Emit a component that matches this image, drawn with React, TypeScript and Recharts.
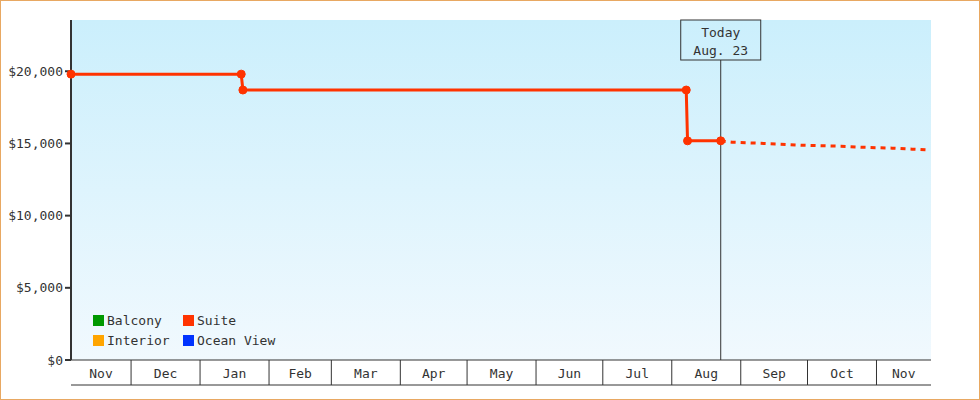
import React from 'react';
import { LineChart, Line, XAxis, YAxis, CartesianGrid, ReferenceLine } from 'recharts';

// suite prices seen so far
const suiteDates = [
  '2012-11-04T00:00',
  '2013-01-19T12:00',
  '2013-01-20T06:00',
  '2013-08-07T12:00',
  '2013-08-08T02:00',
  '2013-08-23T00:00',
];
const suitePrices = [19800, 19800, 18700, 18700, 15180, 15180];

// projected prices after today
const forecastDates = [
  '2013-08-23T00:00',
  '2013-08-28T00:00',
  '2013-09-19T00:00',
  '2013-09-28T00:00',
  '2013-10-16T00:00',
  '2013-10-25T00:00',
  '2013-11-08T00:00',
  '2013-11-17T00:00',
  '2013-11-25T00:00',
];
const forecastPrices = [15180, 15090, 14950, 14880, 14810, 14740, 14675, 14605, 14540];

const rangeStart = '2012-11-04T00:00';
const rangeEnd = '2013-11-25T12:00';
const todayDate = '2013-08-23T00:00';
const todayLines = ['Today', 'Aug. 23'];

const monthStarts = [
  '2012-12-01T00:00', '2013-01-01T00:00', '2013-02-01T00:00', '2013-03-01T00:00',
  '2013-04-01T00:00', '2013-05-01T00:00', '2013-06-01T00:00', '2013-07-01T00:00',
  '2013-08-01T00:00', '2013-09-01T00:00', '2013-10-01T00:00', '2013-11-01T00:00',
];
const monthLabels = ['Nov', 'Dec', 'Jan', 'Feb', 'Mar', 'Apr', 'May', 'Jun', 'Jul', 'Aug', 'Sep', 'Oct', 'Nov'];

const yTicks = [0, 5000, 10000, 15000, 20000];
const yMax = 23550;

const legendNames = ['Balcony', 'Suite', 'Interior', 'Ocean View'];
const legendColors = ['#009900', '#ff3300', '#ffa500', '#0033ff'];

const FONT = '"DejaVu Sans Mono", monospace';
const INK = '#333';

const ts = (s: string) => Date.parse(s + ':00Z');

const start = ts(rangeStart);
const end = ts(rangeEnd);
const today = ts(todayDate);
const bounds = monthStarts.map(ts);

// label sits in the middle of each month cell
const cellEdges = [start, ...bounds, end];
const mids = monthLabels.map((_, i) => (cellEdges[i] + cellEdges[i + 1]) / 2);

const rows: Record<number, { t: number; suite?: number; forecast?: number }> = {};
suiteDates.forEach((d, i) => {
  const t = ts(d);
  rows[t] = { ...(rows[t] || { t }), suite: suitePrices[i] };
});
forecastDates.forEach((d, i) => {
  const t = ts(d);
  rows[t] = { ...(rows[t] || { t }), forecast: forecastPrices[i] };
});
const data = Object.values(rows).sort((a, b) => a.t - b.t);

const xTicks = [...bounds, ...mids].sort((a, b) => a - b);

const MonthTick = (props: any) => {
  const { x, y, payload } = props;
  const v = payload.value;
  const bi = bounds.indexOf(v);
  if (bi >= 0) {
    return <line x1={x} x2={x} y1={y} y2={y + 25} stroke={INK} strokeWidth={1} />;
  }
  const mi = mids.indexOf(v);
  return (
    <text x={x} y={y + 13} textAnchor="middle" dominantBaseline="central" fontSize={13} fontFamily={FONT} fill="#333">
      {monthLabels[mi]}
    </text>
  );
};

const TodayLabel = (props: any) => {
  const vb = props.viewBox || {};
  const cx = vb.x;
  const top = vb.y;
  return (
    <g>
      <rect x={cx - 40} y={top} width={80} height={40} fill="url(#bg)" stroke={INK} strokeWidth={1} />
      <text x={cx} y={top + 12} textAnchor="middle" dominantBaseline="central" fontSize={13} fontFamily={FONT} fill="#333">
        {todayLines[0]}
      </text>
      <text x={cx} y={top + 30} textAnchor="middle" dominantBaseline="central" fontSize={13} fontFamily={FONT} fill="#333">
        {todayLines[1]}
      </text>
    </g>
  );
};

const App = () => {
  return (
    <div style={{ position: 'relative', width: 980, height: 400, boxSizing: 'border-box', border: '1px solid #e8a862', fontFamily: FONT }}>
      <style>{'body{margin:0}'}</style>
      <div style={{ position: 'absolute', left: -1, top: -1 }}>
        <LineChart width={980} height={400} data={data} margin={{ top: 20, right: 49, left: 0, bottom: 14 }}>
          <defs>
            <linearGradient id="bg" gradientUnits="userSpaceOnUse" x1="0" y1="20" x2="0" y2="360">
              <stop offset="0%" stopColor="#cbeffc" />
              <stop offset="100%" stopColor="#f1f9fe" />
            </linearGradient>
          </defs>
          <CartesianGrid horizontal={false} vertical={false} fill="url(#bg)" stroke="none" />
          <XAxis
            dataKey="t"
            type="number"
            domain={[start, end]}
            ticks={xTicks}
            interval={0}
            height={25}
            tickLine={false}
            tickSize={0}
            tickMargin={0}
            axisLine={{ stroke: INK, strokeWidth: 1 }}
            tick={<MonthTick />}
          />
          <XAxis
            xAxisId="base"
            type="number"
            domain={[start, end]}
            height={1}
            tick={false}
            tickLine={false}
            axisLine={{ stroke: INK, strokeWidth: 1 }}
          />
          <YAxis
            type="number"
            domain={[0, yMax]}
            ticks={yTicks}
            width={71}
            tickSize={6}
            tickMargin={2}
            axisLine={{ stroke: INK, strokeWidth: 2 }}
            tickLine={{ stroke: INK, strokeWidth: 2 }}
            tick={{ fill: '#333', fontSize: 13, fontFamily: FONT }}
            tickFormatter={(v: number) => '$' + v.toLocaleString('en-US')}
          />
          <ReferenceLine x={today} stroke={INK} strokeWidth={1} label={<TodayLabel />} />
          <Line
            dataKey="forecast"
            type="linear"
            stroke="#ff3300"
            strokeWidth={3}
            strokeDasharray="5 5"
            dot={false}
            activeDot={false}
            isAnimationActive={false}
          />
          <Line
            dataKey="suite"
            type="linear"
            stroke="#ff3300"
            strokeWidth={3}
            dot={{ r: 4, fill: '#ff3300', stroke: '#ff3300', strokeWidth: 1 }}
            activeDot={false}
            isAnimationActive={false}
          />
        </LineChart>
      </div>
      <div style={{ position: 'absolute', left: 92, top: 309, display: 'grid', gridTemplateColumns: '90px 120px', rowGap: 0 }}>
        {legendNames.map((name, i) => (
          <div key={name} style={{ display: 'flex', alignItems: 'center', height: 20, fontSize: 13, color: '#333' }}>
            <span style={{ width: 11, height: 11, background: legendColors[i], marginRight: 3, display: 'inline-block' }} />
            {name}
          </div>
        ))}
      </div>
    </div>
  );
};

export default App;
